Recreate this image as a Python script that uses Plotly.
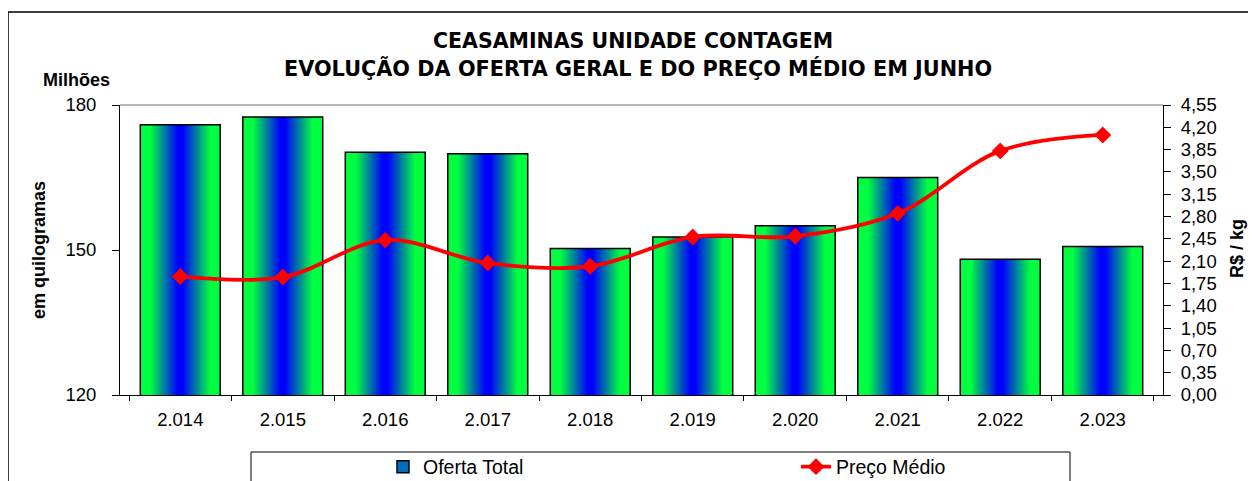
import plotly.graph_objects as go

# ---- data ----
anos = ["2.014", "2.015", "2.016", "2.017", "2.018", "2.019", "2.020", "2.021", "2.022", "2.023"]
oferta_total = [175.9, 177.5, 170.2, 169.9, 150.3, 152.7, 155.0, 165.0, 148.1, 150.7]
preco_medio = [1.86, 1.85, 2.43, 2.07, 2.02, 2.48, 2.49, 2.85, 3.83, 4.08]
y_ticks_left = [120, 150, 180]
y_ticks_right = [0.00, 0.35, 0.70, 1.05, 1.40, 1.75, 2.10, 2.45, 2.80, 3.15, 3.50, 3.85, 4.20, 4.55]

# page body has an 8px default margin; lay the figure out in page pixels
OFF = 8
W, H = 1256 - OFF, 481 - OFF
X_LEFT, X_RIGHT, Y_TOP, Y_BOT = 120, 1163, 105, 395  # plot area in page pixels
ML, MR, MT, MB = X_LEFT - OFF, W - (X_RIGHT - OFF), Y_TOP - OFF, H - (Y_BOT - OFF)
PW, PH = X_RIGHT - X_LEFT, Y_BOT - Y_TOP


def px(xpix):
    return (xpix - X_LEFT) / PW


def py(ypix):
    return (Y_BOT - ypix) / PH


FONT = "Liberation Sans, Arial, sans-serif"
BAR_W = 0.78
GREEN = (0, 255, 64)
BLUE = (0, 0, 255)


def mix(d):
    # d: 1 at bar edge, 0 at bar centre
    s = min(max((d - 0.08) / (0.76 - 0.08), 0.0), 1.0)
    r = round(BLUE[0] + (GREEN[0] - BLUE[0]) * s)
    g = round(BLUE[1] + (GREEN[1] - BLUE[1]) * s)
    b = round(BLUE[2] + (GREEN[2] - BLUE[2]) * s)
    return f"rgb({r},{g},{b})"


fig = go.Figure()

# gradient bars: overlaid bars of decreasing width
N = 30
for k in range(N):
    d = 1 - k / N
    fig.add_trace(go.Bar(
        x=anos, y=oferta_total, width=BAR_W * d,
        marker=dict(color=mix(d), line=dict(width=0)),
        showlegend=False, hoverinfo="skip", yaxis="y",
    ))

# outline
fig.add_trace(go.Bar(
    x=anos, y=oferta_total, width=BAR_W,
    marker=dict(color="rgba(0,0,0,0)", line=dict(color="black", width=1.5)),
    showlegend=False, yaxis="y", name="Oferta Total",
))

# legend entry for bars
fig.add_trace(go.Bar(
    x=anos, y=[None] * len(anos), name="Oferta Total",
    marker=dict(color="rgb(0,110,190)", line=dict(color="black", width=1.5)),
    showlegend=True, yaxis="y",
))

fig.add_trace(go.Scatter(
    x=anos, y=preco_medio, name="Preço Médio", yaxis="y2",
    mode="lines+markers",
    line=dict(color="#ff0000", width=3.8, shape="spline", smoothing=1.0),
    marker=dict(symbol="diamond", size=13, color="#ff0000"),
))

fig.update_layout(
    width=W, height=H,
    margin=dict(l=ML, r=MR, t=MT, b=MB, autoexpand=False),
    paper_bgcolor="white", plot_bgcolor="white",
    barmode="overlay",
    separators=",.",
    font=dict(family=FONT, size=18, color="black"),
    showlegend=True,
    legend=dict(
        orientation="h", x=px(383), y=py(467), xanchor="left", yanchor="middle",
        font=dict(family=FONT, size=19.5, color="black"),
        entrywidth=368, entrywidthmode="pixels",
        bgcolor="rgba(0,0,0,0)", borderwidth=0, traceorder="normal",
    ),
    xaxis=dict(
        type="category", showline=True, linecolor="black", linewidth=1,
        ticks="outside", tickson="boundaries", ticklen=5, tickcolor="black",
        tickfont=dict(family=FONT, size=18.5), showgrid=False, zeroline=False,
        ticklabelstandoff=8,
    ),
    yaxis=dict(
        range=[120, 180], tickvals=y_ticks_left, showline=True, linecolor="black",
        linewidth=1, ticks="outside", ticklen=7, tickcolor="black",
        tickfont=dict(family=FONT, size=18.5), showgrid=False, zeroline=False,
        ticklabelstandoff=12,
    ),
    yaxis2=dict(
        range=[0, 4.55], tickvals=y_ticks_right, tickformat=".2f", overlaying="y",
        side="right", showline=True, linecolor="black", linewidth=1,
        ticks="outside", ticklen=7, tickcolor="black",
        tickfont=dict(family=FONT, size=18.5), showgrid=False, zeroline=False,
        ticklabelstandoff=6,
    ),
    shapes=[
        dict(type="rect", xref="paper", yref="paper", x0=px(8), x1=px(1270),
             y0=py(500), y1=py(12), line=dict(color="black", width=1.5),
             fillcolor="rgba(0,0,0,0)", layer="below"),
        dict(type="line", xref="paper", yref="paper", x0=0, x1=1, y0=1, y1=1,
             line=dict(color="#a0a0a0", width=1.5)),
        dict(type="rect", xref="paper", yref="paper", x0=px(251), x1=px(1070),
             y0=py(500), y1=py(452), line=dict(color="black", width=1),
             fillcolor="rgba(0,0,0,0)"),
    ],
    annotations=[
        dict(text="<b>CEASAMINAS UNIDADE CONTAGEM</b>", xref="paper", yref="paper",
             x=px(633), y=py(41), xanchor="center", yanchor="middle", showarrow=False,
             font=dict(family="DejaVu Sans, sans-serif", size=20.5, color="black")),
        dict(text="<b>EVOLUÇÃO DA OFERTA GERAL E DO PREÇO MÉDIO EM JUNHO</b>",
             xref="paper", yref="paper",
             x=px(638), y=py(68), xanchor="center", yanchor="middle", showarrow=False,
             font=dict(family="DejaVu Sans, sans-serif", size=20.8, color="black")),
        dict(text="<b>Milhões</b>", xref="paper", yref="paper",
             x=px(76), y=py(80), xanchor="center", yanchor="middle", showarrow=False,
             font=dict(family=FONT, size=18, color="black")),
        dict(text="<b>em quilogramas</b>", xref="paper", yref="paper",
             x=px(39), y=py(250), xanchor="center", yanchor="middle", showarrow=False,
             textangle=-90, font=dict(family=FONT, size=18, color="black")),
        dict(text="<b>R$ / kg</b>", xref="paper", yref="paper",
             x=px(1237), y=py(249), xanchor="center", yanchor="middle", showarrow=False,
             textangle=-90, font=dict(family=FONT, size=18, color="black")),
    ],
)

fig.write_html("out.html")
